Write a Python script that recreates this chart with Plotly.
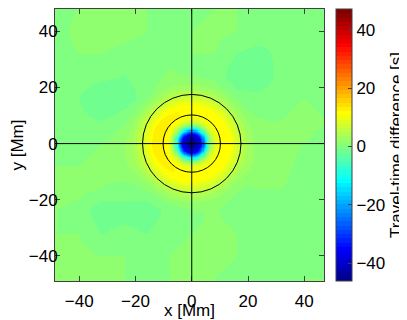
import numpy as np
import plotly.graph_objects as go

# radial profile of the travel-time difference around the centre
profile_r = [0, 1, 2, 3, 3.5, 4, 4.5, 5, 5.5, 6, 6.5, 7, 8, 9, 10, 11, 12, 13, 14, 15,
             16, 17, 18, 19, 20, 21, 22, 23, 25, 28, 70]
profile_dt = [-46.0, -45.0, -42.0, -37.0, -34.0, -28.0, -22.0, -15.0, -9.0, -4.0, 0.0, 3.0,
              8.0, 10.0, 11.0, 11.5, 11.5, 11.0, 10.5, 9.0, 7.5, 6.0, 4.5, 3.5, 2.5, 1.8,
              1.2, 0.7, 0.2, 0.0, 0.0]

# coarse background field (rows bottom -> top)
bg_nodes = [-48, -40, -32, -24, -16, -8, 0, 8, 16, 24, 32, 40, 48]
bg_dt = [
    [0.5, 0.5, 0.5, 0.5, 0, 0.5, 0.5, 0.5, 0, 0, 0, 0.5, 0.5],
    [1, 1, 0.5, 0.5, 0.5, 0.5, 1, 1, 0.5, 0.5, 0, 0, 0.5],
    [0.5, 0.5, -1, -0.5, -1, 0, 0.5, 1, 0.5, 0, 0, 0, 0],
    [0.5, 0, -2, -1.5, -2, -0.5, 0, 0.5, 0, 0, 0, -0.5, 0],
    [1, 1, 0.5, 0, 0, 0.5, 0, 0, 0, 0.5, 0.5, 0, 0],
    [0.5, 0.5, 1, 1.5, 1.5, 1, 0, 0, 0.5, 1.5, 1, 0, 0],
    [0, 0, 0.5, 1.5, 2, 1.5, 0, 0, 0.5, 1, 1, 0.5, 0],
    [0, -0.5, -1, 0, 1.5, 1.5, 0, 0, 0, 0.5, 0.5, 1, 0.5],
    [0, -1, -2.5, -2, -0.5, 0.5, 0, 0, -0.5, -0.5, 0, 0.5, 0],
    [0, 0, -0.5, -1, 0, 0.5, 0, 0, -2, -2, -0.5, 0, 0],
    [0, 0.5, 0.5, 0, 0, 0.5, 0.5, 0.5, -1, -1.5, -0.5, 0, 0],
    [0, 1, 1.5, 1, 0.5, 0, 0.5, 1, 0.5, 0, -0.5, 0, 0],
    [0, 0.5, 1, 1, 0.5, 0, 0, 0.5, 0.5, 0, 0, 0, 0],
]

circle_radii = [10.2, 17.5]
x_range = [-48.6, 47.0]
y_range = [-48.9, 47.9]
dt_min, dt_max = -46.1, 47.1

# pixel grid
step = 0.4
xs = np.arange(x_range[0] + step / 2, x_range[1], step)
ys = np.arange(y_range[0] + step / 2, y_range[1], step)
XX, YY = np.meshgrid(xs, ys)
RR = np.hypot(XX, YY)

bg = np.array(bg_dt, dtype=float)
bg_x = np.array([np.interp(xs, bg_nodes, row) for row in bg])
bg_full = np.array([np.interp(ys, bg_nodes, bg_x[:, j]) for j in range(len(xs))]).T
z = bg_full + np.interp(RR, profile_r, profile_dt)


def jet(m=64):
    # MATLAB-style jet colormap, m discrete levels
    n = int(np.ceil(m / 4))
    u = np.concatenate([np.arange(1, n + 1) / n, np.ones(n - 1), np.arange(n, 0, -1) / n])
    g = int(np.ceil(n / 2)) - (m % 4 == 1) + np.arange(1, len(u) + 1)
    cols = np.zeros((m, 3))
    for k, idx in enumerate([g + n, g, g - n]):
        ok = (idx >= 1) & (idx <= m)
        cols[idx[ok] - 1, k] = u[ok]
    scale = []
    for i, c in enumerate(cols):
        rgb = "rgb({},{},{})".format(*[int(round(v * 255)) for v in c])
        scale.append([i / m, rgb])
        scale.append([(i + 1) / m, rgb])
    return scale


font = "Liberation Sans, Arial, sans-serif"
fs = 17

fig = go.Figure()
fig.add_trace(go.Heatmap(
    x=xs, y=ys, z=z,
    zmin=dt_min, zmax=dt_max,
    colorscale=jet(64),
    colorbar=dict(
        title=dict(text="Travel-time difference [s]", side="right", font=dict(size=fs)),
        tickvals=[-40, -20, 0, 20, 40],
        ticks="inside", ticklen=4, tickcolor="#404040",
        thickness=16, len=1, lenmode="fraction",
        x=281 / 269, xanchor="left", xpad=0,
        y=0, yanchor="bottom", ypad=0,
        outlinecolor="#404040", outlinewidth=1,
        tickfont=dict(size=fs),
    ),
))

for r in circle_radii:
    fig.add_shape(type="circle", xref="x", yref="y", x0=-r, x1=r, y0=-r, y1=r,
                  line=dict(color="black", width=1))
fig.add_shape(type="line", xref="x", yref="y domain", x0=0, x1=0, y0=0, y1=1,
              line=dict(color="black", width=1))
fig.add_shape(type="line", xref="x domain", yref="y", x0=0, x1=1, y0=0, y1=0,
              line=dict(color="black", width=1))

axis = dict(showline=True, linecolor="#404040", linewidth=1, mirror="allticks",
            ticks="inside", ticklen=5, tickcolor="#404040", showgrid=False, zeroline=False,
            tickvals=[-40, -20, 0, 20, 40], tickfont=dict(size=fs))
fig.update_xaxes(range=x_range, ticklabelstandoff=5,
                 title=dict(text="x [Mm]", standoff=0, font=dict(size=fs)), **axis)
fig.update_yaxes(range=y_range, ticklabelstandoff=-7,
                 title=dict(text="y [Mm]", standoff=2, font=dict(size=fs)), **axis)

# the page adds an 8px body margin, so the figure is 8px smaller and shifted
fig.update_layout(
    width=399, height=312,
    margin=dict(l=47, r=83, t=1, b=39, autoexpand=False),
    plot_bgcolor="white", paper_bgcolor="white",
    font=dict(family=font, size=fs, color="black"),
    showlegend=False,
)

fig.write_html("out.html")
